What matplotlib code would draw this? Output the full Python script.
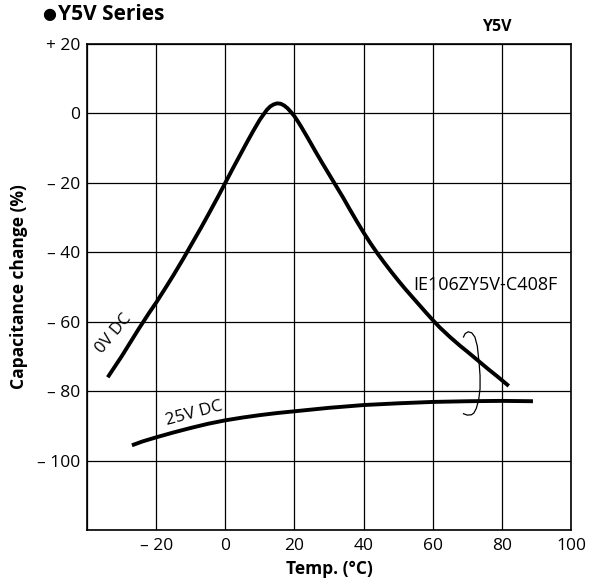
import numpy as np
import matplotlib
matplotlib.use("Agg")
import matplotlib.pyplot as plt

plt.rcParams['font.family'] = ['Open Sans', 'DejaVu Sans']

# 0V DC curve
temp_0v = [-34, -32, -30, -28, -25, -22, -20, -17, -15, -12, -10, -7, -5, -2, 0, 2, 4, 6,
           8, 10, 11, 12, 13, 14, 15, 16, 17, 18, 19, 20, 21, 22, 24, 26, 28, 30, 32, 34,
           36, 38, 40, 42, 44, 46, 48, 50, 52, 55, 58, 60, 62, 65, 68, 70, 73, 76, 79, 82]
cap_0v = [-76, -73, -70, -66.8, -62, -57.4, -54.5, -49.8, -46.6, -41.6, -38.1, -32.9, -29.3,
          -23.8, -20, -16.2, -12.5, -8.8, -5.2, -1.8, -0.4, 1.0, 2.0, 2.6, 2.9, 2.8, 2.3,
          1.5, 0.4, -0.8, -2.3, -3.9, -7.3, -10.8, -14.2, -17.5, -20.8, -24.1, -27.6, -31,
          -34.3, -37.4, -40.3, -43, -45.6, -48.1, -50.5, -53.9, -57.3, -59.5, -61.6, -64.4,
          -67, -68.6, -71.1, -73.6, -76, -78.5]

# 25V DC curve
temp_25v = [-27, -24, -20, -15, -10, -5, 0, 5, 10, 15, 20, 30, 40, 50, 60, 70, 80, 89]
cap_25v = [-95.6, -94.5, -93.3, -91.9, -90.6, -89.4, -88.4, -87.6, -86.9, -86.3, -85.8,
           -84.8, -84, -83.5, -83.1, -82.9, -82.8, -82.9]

# bracket grouping both curves
brace_x = [68.9, 69.4, 70.3, 71.3, 72.2, 72.9, 73.4, 73.7, 73.7, 73.3, 72.6, 71.9, 71.2,
           70.0, 68.9]
brace_y = [-64.4, -63.4, -62.9, -63.2, -64.4, -67, -71.6, -75.5, -79.3, -82.5, -85.0,
           -86.3, -86.8, -86.9, -86.5]

x_ticks = [-40, -20, 0, 20, 40, 60, 80, 100]
x_labels = ['', '– 20', '0', '20', '40', '60', '80', '100']
y_ticks = [20, 0, -20, -40, -60, -80, -100, -120]
y_labels = ['+ 20', '0', '– 20', '– 40', '– 60', '– 80', '– 100', '']

fig = plt.figure(figsize=(5.89, 5.82), dpi=100)
ax = fig.add_axes([0.1477, 0.0893, 0.8217, 0.8351])

ax.plot(temp_0v, cap_0v, color='black', lw=2.8, solid_capstyle='butt', solid_joinstyle='round')
ax.plot(temp_25v, cap_25v, color='black', lw=2.8, solid_capstyle='butt', solid_joinstyle='round')
ax.plot(brace_x, brace_y, color='black', lw=0.9, solid_joinstyle='round')

ax.set_xlim(-40, 100)
ax.set_ylim(-120, 20)
ax.set_xticks(x_ticks)
ax.set_xticklabels(x_labels)
ax.set_yticks(y_ticks)
ax.set_yticklabels(y_labels)
ax.tick_params(length=0, labelsize=12.5, pad=6)
ax.tick_params(axis='y', pad=5)
ax.grid(True, color='black', lw=0.9)
for s in ax.spines.values():
    s.set_linewidth(1.2)

ax.set_xlabel('Temp. (°C)', fontsize=12.5, fontweight='bold', labelpad=4)
ax.set_ylabel('Capacitance change (%)', fontsize=12.5, fontweight='bold', labelpad=6)

ax.text(-32.2, -63.5, '0V DC', rotation=50, ha='center', va='center', fontsize=12)
ax.text(-9, -86.4, '25V DC', rotation=15, ha='center', va='center', fontsize=12.5)
ax.text(54.5, -49.5, 'IE106ZY5V-C408F', ha='left', va='center', fontsize=13)

fig.text(0.071, 0.974, '●', ha='left', va='center', fontsize=11.5)
fig.text(0.098, 0.975, 'Y5V Series', ha='left', va='center', fontsize=15,
         fontweight='bold')
fig.text(0.844, 0.953, 'Y5V', ha='center', va='center', fontsize=11.5, fontweight='bold')

fig.savefig('out.png', dpi=100)
